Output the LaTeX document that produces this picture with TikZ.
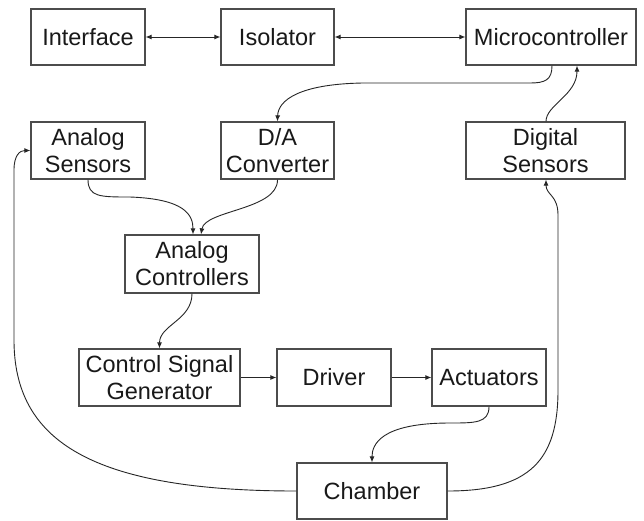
\documentclass[tikz,border=0pt]{standalone}
\usepackage{fontspec}
\setmainfont{Liberation Sans}
\usetikzlibrary{arrows.meta}
\begin{document}
\begin{tikzpicture}[x=1pt,y=-1pt,
  blk/.style={draw=black!70,line width=1.2pt,inner sep=0pt,align=center,
    font=\fontsize{23.5}{27}\selectfont,text=black!90},
  conn/.style={draw=black!85,line width=0.9pt,-{Latex[length=6pt,width=5pt]}},
  bconn/.style={draw=black!85,line width=0.9pt,{Latex[length=6pt,width=5pt]}-{Latex[length=6pt,width=5pt]}}]
\useasboundingbox (0,0) rectangle (644,520);
\fill[white] (0,0) rectangle (644,520);
\node[blk,minimum width=114pt,minimum height=56pt] (iface) at (88,37) {Interface};
\node[blk,minimum width=113pt,minimum height=56pt] (iso) at (277.5,37) {Isolator};
\node[blk,minimum width=170pt,minimum height=56pt] (mc) at (551,37) {Microcontroller};
\node[blk,minimum width=114pt,minimum height=57pt] (as) at (88,150.5) {Analog\\Sensors};
\node[blk,minimum width=113pt,minimum height=57pt] (da) at (277.5,150.5) {D/A\\Converter};
\node[blk,minimum width=159pt,minimum height=57pt] (ds) at (545.5,150.5) {Digital\\Sensors};
\node[blk,minimum width=134pt,minimum height=58pt] (ac) at (192,264) {Analog\\Controllers};
\node[blk,minimum width=161pt,minimum height=57pt] (csg) at (159.5,377.5) {Control Signal\\Generator};
\node[blk,minimum width=114pt,minimum height=57pt] (drv) at (334,377.5) {Driver};
\node[blk,minimum width=114pt,minimum height=57pt] (act) at (489,377.5) {Actuators};
\node[blk,minimum width=150pt,minimum height=56pt] (ch) at (372,491) {Chamber};

\draw[bconn] (iface.east) -- (iso.west);
\draw[bconn] (iso.east) -- (mc.west);
\draw[conn] ([xshift=1pt]mc.south) .. controls (552,80) and (545,83) .. (530,83) -- (363,83)
   .. controls (300,84) and (278,100) .. (da.north);
\draw[conn] ([xshift=0.5pt]ds.north) .. controls (546,105) and (577,95) .. ([xshift=26pt]mc.south);
\draw[conn] (as.south) .. controls (88,197) and (100,197) .. (130,197)
   .. controls (185,199) and (193,215) .. ([xshift=1pt]ac.north);
\draw[conn] (da.south) .. controls (278,210) and (205,210) .. ([xshift=9pt]ac.north);
\draw[conn] (ac.south) .. controls (192,320) and (159.5,325) .. (csg.north);
\draw[conn] (csg.east) -- (drv.west);
\draw[conn] (drv.east) -- (act.west);
\draw[conn] (act.south) .. controls (489,423) and (475,423) .. (450,423)
   .. controls (380,423) and (372,445) .. (ch.north);
\draw[conn] (ch.west) .. controls (90,491) and (14,440) .. (14,340) -- (14,170)
   .. controls (14,155) and (20,150.5) .. (as.west);
\draw[conn] (ch.east) .. controls (530,491) and (558,460) .. (558,390) -- (558,215)
   .. controls (558,195) and (546,195) .. ([xshift=0.5pt]ds.south);
\end{tikzpicture}
\end{document}
